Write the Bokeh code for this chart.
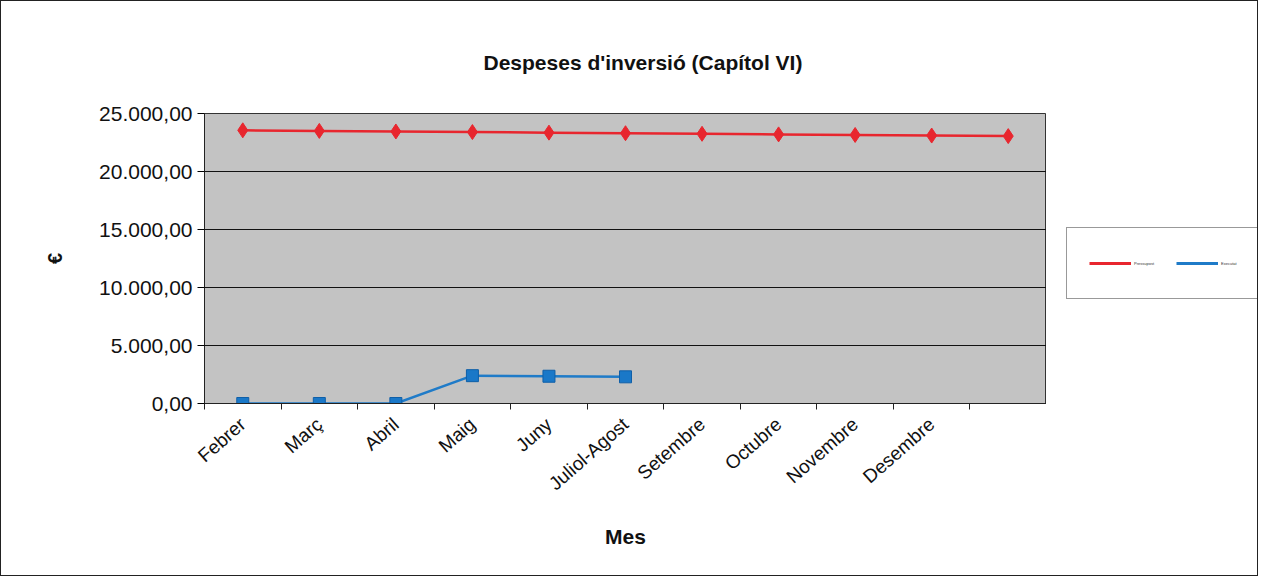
from bokeh.plotting import figure
from bokeh.models import FixedTicker, Legend, LegendItem, Title
from bokeh.layouts import row
from bokeh.embed import file_html
from bokeh.resources import INLINE

months = ["Febrer", "Març", "Abril", "Maig", "Juny", "Juliol-Agost",
          "Setembre", "Octubre", "Novembre", "Desembre", ""]
pressupost = [23550, 23500, 23450, 23400, 23350, 23300, 23250, 23200, 23150, 23100, 23050]
executat = [0, 0, 0, 2400, 2350, 2300]
y_ticks = [0, 5000, 10000, 15000, 20000, 25000]
series_names = ["Pressupost", "Executat"]
RED = "#e8262e"
BLUE = "#1f7bc8"

def fmt(v):
    s = f"{v:,.2f}"
    return s.replace(",", "X").replace(".", ",").replace("X", ".")

xs = [i + 0.5 for i in range(len(months))]

p = figure(width=1045, height=574, output_backend="svg", toolbar_location=None,
           x_range=(0, len(months)), y_range=(0, 25000),
           min_border_left=203, min_border_right=0, min_border_top=112,
           min_border_bottom=172)
p.background_fill_color = "#c3c3c3"
p.border_fill_color = "white"
p.outline_line_color = "#333333"

p.title = Title(text="Despeses d'inversió (Capítol VI)", align="left",
                text_font="Liberation Sans", text_font_size="21px",
                text_font_style="bold", text_color="#111111", standoff=80, offset=279)

p.line(xs, pressupost, color=RED, line_width=2.5)
p.scatter(xs, pressupost, marker="diamond", size=15, color=RED)
p.line(xs[:len(executat)], executat, color=BLUE, line_width=2.5)
p.scatter(xs[:len(executat)], executat, marker="square", size=12,
          fill_color="#1a78c8", line_color="#0f5fa8")

p.xaxis.ticker = FixedTicker(ticks=xs, minor_ticks=list(range(len(months) + 1)))
p.xaxis.major_label_overrides = {x: m for x, m in zip(xs, months)}
p.xaxis.major_tick_out = 0
p.xaxis.major_tick_in = 0
p.xaxis.minor_tick_out = 6
p.xaxis.minor_tick_in = 0
p.xaxis.minor_tick_line_color = "#222222"
p.xaxis.major_label_orientation = 0.72
p.xaxis.major_label_standoff = 12
p.xaxis.major_label_text_font = "Liberation Sans"
p.xaxis.major_label_text_font_size = "19px"
p.xaxis.major_label_text_color = "#111111"
p.xaxis.axis_label = "Mes"
p.xaxis.axis_label_text_font = "Liberation Sans"
p.xaxis.axis_label_text_font_size = "21px"
p.xaxis.axis_label_text_font_style = "bold"
p.xaxis.axis_label_text_color = "#111111"
p.xaxis.axis_label_standoff = 20
p.xaxis.axis_line_color = "#222222"
p.xgrid.grid_line_color = None

p.yaxis.ticker = FixedTicker(ticks=y_ticks)
p.yaxis.major_label_overrides = {v: fmt(v) for v in y_ticks}
p.yaxis.major_tick_out = 7
p.yaxis.major_tick_in = 0
p.yaxis.minor_tick_line_color = None
p.yaxis.major_label_text_font = "Liberation Sans"
p.yaxis.major_label_text_font_size = "21px"
p.yaxis.major_label_text_color = "#111111"
p.yaxis.axis_label = "€"
p.yaxis.axis_label_text_font = "Liberation Sans"
p.yaxis.axis_label_text_font_size = "20px"
p.yaxis.axis_label_text_font_style = "bold"
p.yaxis.axis_label_text_color = "#111111"
p.yaxis.axis_label_standoff = 30
p.yaxis.axis_line_color = "#222222"
p.ygrid.grid_line_color = "#111111"
p.ygrid.grid_line_width = 1

# legend panel (its ranges keep the series out of view; only the legend shows)
q = figure(width=211, height=574, output_backend="svg", toolbar_location=None,
           x_range=(0, 1), y_range=(-2, -1), min_border=0)
q.axis.visible = False
q.grid.grid_line_color = None
q.outline_line_color = None
q.border_fill_color = "white"
q.background_fill_color = "white"
l1 = q.line(xs, pressupost, color=RED, line_width=3)
l2 = q.line(xs[:len(executat)], executat, color=BLUE, line_width=3)
legend = Legend(items=[LegendItem(label=series_names[0], renderers=[l1]),
                       LegendItem(label=series_names[1], renderers=[l2])],
                orientation="horizontal", location=(20, 104),
                label_text_font_size="4px", label_text_font="Liberation Sans",
                label_text_color="#333333",
                glyph_width=42, glyph_height=26, padding=22, spacing=22,
                label_standoff=3, border_line_color="#333333",
                border_line_width=1.5, background_fill_color="white",
                background_fill_alpha=1.0, margin=0)
q.add_layout(legend)

layout = row(p, q, styles={"border": "1.5px solid #222"})

open("out.html", "w").write(file_html(layout, INLINE))
